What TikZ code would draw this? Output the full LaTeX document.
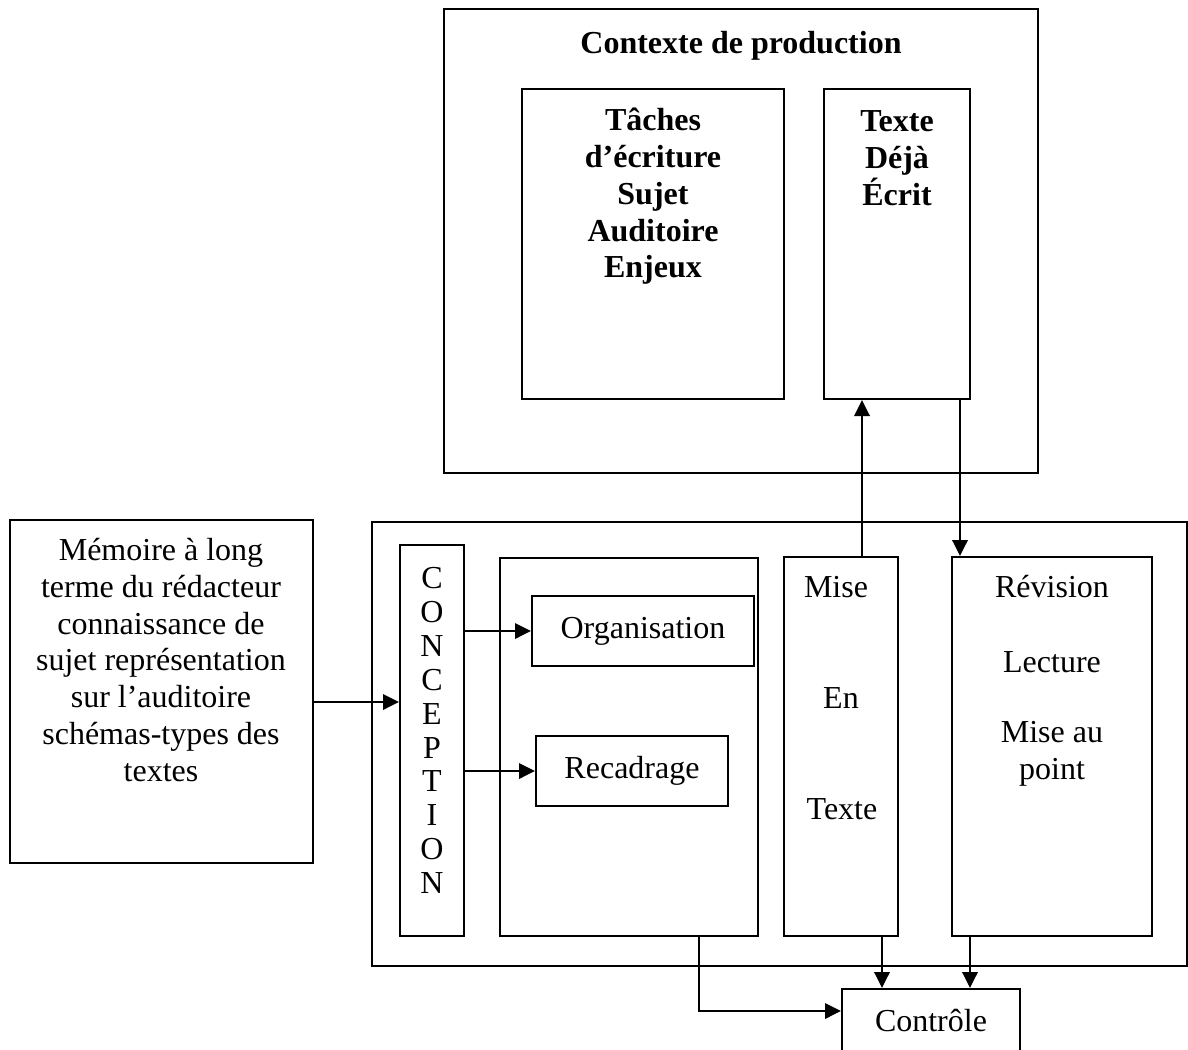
\documentclass[tikz,border=0pt]{standalone}
\usepackage{fontspec}
\setmainfont{Liberation Serif}
\usetikzlibrary{arrows.meta}

\tikzset{
  cadre/.style={draw, line width=0.75pt, inner sep=0pt},
  taille/.style 2 args={minimum width=#1*0.375pt, minimum height=#2*0.375pt},
  texte/.style={inner sep=0pt, align=center, font=\fontsize{12}{13.8}\selectfont},
  gras/.style={texte, font=\fontsize{12}{13.8}\selectfont\bfseries},
  fleche/.style={line width=0.75pt, -{Triangle[length=6pt,width=5.8pt]}}
}

\begin{document}
\begin{tikzpicture}[line join=miter, x=0.375pt, y=-0.375pt]

                \clip (0,0) rectangle (1188,1050);

                % contexte de production
                \node[cadre, taille={594}{464}] (contexte) at (741,241) {};
                \node[gras] (titre) at (741,46) {Contexte de production};
                \node[cadre, taille={262}{310}] (taches) at (653,244) {};
                \node[gras] (tachestxt) at (653,196.5) {Tâches\\d’écriture\\Sujet\\Auditoire\\Enjeux};
                \node[cadre, taille={146}{310}] (deja) at (897,244) {};
                \node[gras] (dejatxt) at (897,158) {Texte\\Déjà\\Écrit};

                % memoire
                \node[cadre, taille={303}{343}] (memoire) at (161.5,691.5) {};
                \node[texte] (memoiretxt) at (161,660) {Mémoire à long\\terme du rédacteur\\connaissance de\\sujet représentation\\sur l’auditoire\\schémas-types des\\textes};

                % processus
                \node[cadre, taille={815}{444}] (processus) at (779.5,744) {};
                \node[cadre, taille={64}{391}] (conception) at (432,740.5) {};
                \node[texte, font=\fontsize{12}{12.7}\selectfont] (conceptiontxt) at (432,730.5) {C\\O\\N\\C\\E\\P\\T\\I\\O\\N};
                \node[cadre, taille={258}{378}] (planif) at (629,747) {};
                \node[cadre, taille={222}{70}] (organisation) at (643,631) {};
                \node[texte] (organisationtxt) at (643,631) {Organisation};
                \node[cadre, taille={192}{70}] (recadrage) at (632,771) {};
                \node[texte] (recadragetxt) at (632,771) {Recadrage};
                \node[cadre, taille={114}{379}] (mise) at (841,746.5) {};
                \node[texte] (misetxt) at (836,587) {Mise};
                \node[texte] (entxt) at (841,698) {En};
                \node[texte] (textetxt) at (842,809) {Texte};
                \node[cadre, taille={200}{379}] (revision) at (1052,746.5) {};
                \node[texte] (revisiontxt) at (1052,587) {Révision};
                \node[texte] (lecturetxt) at (1052,662) {Lecture};
                \node[texte] (pointtxt) at (1052,753.5) {Mise au\\point};

                % controle
                \node[cadre, taille={178}{91}] (controle) at (931,1034.5) {};
                \node[texte] (controletxt) at (931,1021) {Contrôle};

                % fleches
                \draw[fleche] (memoire.east |- 0,702) -- (conception.west |- 0,702);
                \draw[fleche] (conception.east |- organisation.west) -- (organisation.west);
                \draw[fleche] (conception.east |- recadrage.west) -- (recadrage.west);
                \draw[fleche] (mise.north -| 862,0) -- (deja.south -| 862,0);
                \draw[fleche] (deja.south -| 960,0) -- (revision.north -| 960,0);
                \draw[fleche] (planif.south -| 699,0) |- (controle.west |- 0,1011);
                \draw[fleche] (mise.south -| 882,0) -- (controle.north -| 882,0);
                \draw[fleche] (revision.south -| 970,0) -- (controle.north -| 970,0);

\end{tikzpicture}
\end{document}
